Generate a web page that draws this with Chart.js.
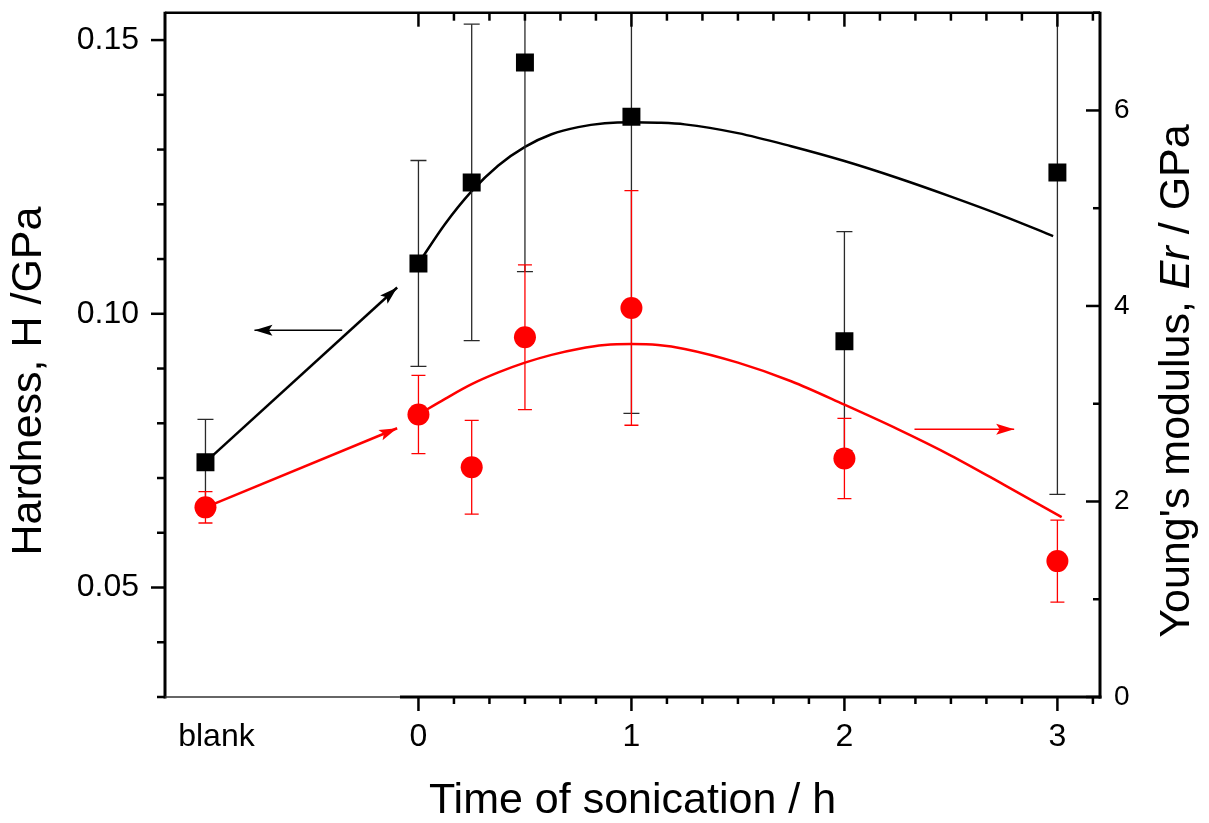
<!DOCTYPE html>
<html>
<head>
<meta charset="utf-8">
<script src="https://cdn.jsdelivr.net/npm/chart.js@4.4.1/dist/chart.umd.min.js"></script>
<style>
  body { margin: 0; background: #fff; }
</style>
</head>
<body>
<canvas id="chart" width="1209" height="823"></canvas>
<script>
// sonication time in h, the blank sample sits at -1
const times = [-1, 0, 0.25, 0.5, 1, 2, 3];
const hardness = [0.0729, 0.1092, 0.1240, 0.1459, 0.1360, 0.0950, 0.1258];
const hardnessErr = [0.0078, 0.0188, 0.0289, 0.0382, 0.0542, 0.0200, 0.0588];
const modulus = [1.94, 2.89, 2.35, 3.68, 3.98, 2.44, 1.39];
const modulusErr = [0.16, 0.40, 0.48, 0.74, 1.20, 0.41, 0.42];

// fitted trend curves
const hardnessFitTimes = [0, 0.125, 0.25, 0.375, 0.5, 0.625, 0.75, 0.875, 1, 1.125, 1.25, 1.5, 1.75, 2, 2.25, 2.5, 2.75, 2.98];
const hardnessFit = [0.1092, 0.1164, 0.1224, 0.1271, 0.1305, 0.1328, 0.1341, 0.1348, 0.1350, 0.1349, 0.1346, 0.1330, 0.1306, 0.1279, 0.1248, 0.1214, 0.1178, 0.1142];
const modulusFitTimes = [0, 0.125, 0.25, 0.375, 0.5, 0.625, 0.75, 0.875, 1, 1.125, 1.25, 1.5, 1.75, 2, 2.25, 2.5, 2.75, 3.02];
const modulusFit = [2.89, 3.05, 3.20, 3.32, 3.42, 3.50, 3.56, 3.60, 3.61, 3.60, 3.56, 3.42, 3.23, 2.99, 2.74, 2.47, 2.17, 1.84];

// guide arrows [x, y] start -> end
const hardnessArrow = [[-1, 0.0729], [-0.10, 0.1048]];
const hardnessAxisArrow = [[-0.358, 0.0970], [-0.77, 0.0970]];
const modulusArrow = [[-1, 1.94], [-0.10, 2.749]];
const modulusAxisArrow = [[2.329, 2.739], [2.797, 2.739]];

// axes
const xTickValues = [-1, 0, 1, 2, 3];
const xTickLabels = ['blank', '0', '1', '2', '3'];
const xMajorTicks = [0, 1, 2, 3];
const xBreak = -0.087;
const yTickValues = [0.05, 0.10, 0.15];
const yTickLabels = ['0.05', '0.10', '0.15'];
const yMinorTicks = [0.03, 0.04, 0.06, 0.07, 0.08, 0.09, 0.11, 0.12, 0.13, 0.14];
const y2TickValues = [0, 2, 4, 6];
const y2TickLabels = ['0', '2', '4', '6'];
const y2MinorTicks = [1, 3, 5, 7];

const FONT = "'Liberation Sans', Arial, sans-serif";

function pts(xs, ys) {
    return xs.map((x, i) => ({x: x, y: ys[i]}));
}

function seg(ctx, x1, y1, x2, y2) {
    ctx.beginPath();
    ctx.moveTo(x1, y1);
    ctx.lineTo(x2, y2);
    ctx.stroke();
}

// error bars, drawn just under the markers of their dataset
const errorBars = {
    id: 'errorBars',
    beforeDatasetDraw(chart, args) {
        const ds = chart.data.datasets[args.index];
        if (!ds.errors) return;
        const ctx = chart.ctx;
        const a = chart.chartArea;
        const ys = chart.scales[ds.yAxisID];
        ctx.save();
        ctx.beginPath();
        ctx.rect(a.left, a.top, a.right - a.left, a.bottom - a.top);
        ctx.clip();
        ctx.strokeStyle = ds.errorColor;
        ctx.lineWidth = 1.3;
        args.meta.data.forEach((p, i) => {
            const v = ds.data[i].y;
            const top = ys.getPixelForValue(v + ds.errors[i]);
            const bot = ys.getPixelForValue(v - ds.errors[i]);
            seg(ctx, p.x, top, p.x, bot);
            seg(ctx, p.x - ds.capHalf, top, p.x + ds.capHalf, top);
            seg(ctx, p.x - ds.capHalf, bot, p.x + ds.capHalf, bot);
        });
        ctx.restore();
    }
};

// arrow heads at the end of the guide lines
const arrowHeads = {
    id: 'arrowHeads',
    afterDatasetDraw(chart, args) {
        const ds = chart.data.datasets[args.index];
        if (!ds.arrow) return;
        const ctx = chart.ctx;
        const p0 = args.meta.data[0], p1 = args.meta.data[1];
        const ang = Math.atan2(p1.y - p0.y, p1.x - p0.x);
        const len = 18, half = 5.5;
        ctx.save();
        ctx.translate(p1.x, p1.y);
        ctx.rotate(ang);
        ctx.fillStyle = ds.borderColor;
        ctx.beginPath();
        ctx.moveTo(0, 0);
        ctx.lineTo(-len, -half);
        ctx.lineTo(-len * 0.8, 0);
        ctx.lineTo(-len, half);
        ctx.closePath();
        ctx.fill();
        ctx.restore();
    }
};

// frame, tick marks, tick labels and axis titles
const frame = {
    id: 'frame',
    afterDatasetsDraw(chart) {
        const ctx = chart.ctx;
        const a = chart.chartArea;
        const x = chart.scales.x, y = chart.scales.y, y2 = chart.scales.y2;
        ctx.save();
        ctx.strokeStyle = '#000';

        // minor x ticks every 10 min
        const xMinor = [];
        for (let k = 1; k <= 19; k++) if (k % 6) xMinor.push(k / 6);

        ctx.lineWidth = 2.5;
        xMajorTicks.forEach(v => {
            const px = x.getPixelForValue(v);
            seg(ctx, px, a.bottom, px, a.bottom + 14);
            seg(ctx, px, a.top, px, a.top + 14);
        });
        xMinor.forEach(v => {
            const px = x.getPixelForValue(v);
            seg(ctx, px, a.bottom, px, a.bottom + 7);
            seg(ctx, px, a.top, px, a.top + 8);
        });
        yTickValues.forEach(v => {
            const py = y.getPixelForValue(v);
            seg(ctx, a.left - 14, py, a.left, py);
        });
        yMinorTicks.forEach(v => {
            const py = y.getPixelForValue(v);
            seg(ctx, a.left - 8, py, a.left, py);
        });
        y2TickValues.forEach(v => {
            const py = y2.getPixelForValue(v);
            seg(ctx, a.right - 14, py, a.right, py);
        });
        y2MinorTicks.forEach(v => {
            const py = y2.getPixelForValue(v);
            seg(ctx, a.right - 7, py, a.right, py);
        });

        // axis lines
        ctx.lineWidth = 2.5;
        seg(ctx, a.left, a.top, a.right, a.top);
        ctx.lineWidth = 3;
        seg(ctx, a.left, a.top - 1, a.left, a.bottom + 1.5);
        seg(ctx, a.right, a.top - 1, a.right, a.bottom + 1.5);
        const xb = x.getPixelForValue(xBreak);
        seg(ctx, xb, a.bottom, a.right + 1.5, a.bottom);
        ctx.lineWidth = 1.5;
        ctx.strokeStyle = '#333';
        seg(ctx, a.left, a.bottom, xb, a.bottom);

        // tick labels
        ctx.fillStyle = '#000';
        ctx.font = '32px ' + FONT;
        ctx.textBaseline = 'middle';
        ctx.textAlign = 'right';
        yTickValues.forEach((v, i) => {
            ctx.fillText(yTickLabels[i], a.left - 26, y.getPixelForValue(v));
        });
        ctx.textAlign = 'center';
        xTickValues.forEach((v, i) => {
            const dx = v < 0 ? 11 : 0;
            ctx.fillText(xTickLabels[i], x.getPixelForValue(v) + dx, a.bottom + 40);
        });
        ctx.font = '28px ' + FONT;
        ctx.textAlign = 'left';
        y2TickValues.forEach((v, i) => {
            ctx.fillText(y2TickLabels[i], a.right + 14, y2.getPixelForValue(v));
        });

        // axis titles
        ctx.font = '43px ' + FONT;
        ctx.textAlign = 'center';
        ctx.textBaseline = 'alphabetic';
        ctx.fillText('Time of sonication / h', (a.left + a.right) / 2, 813);

        ctx.save();
        ctx.translate(29, 381);
        ctx.rotate(-Math.PI / 2);
        ctx.textBaseline = 'middle';
        ctx.fillText('Hardness, H /GPa', 0, 0);
        ctx.restore();

        const parts = [
            ["Young's modulus, ", '43px ' + FONT],
            ['Er', 'italic 43px ' + FONT],
            [' / GPa', '43px ' + FONT]
        ];
        let total = 0;
        parts.forEach(p => { ctx.font = p[1]; total += ctx.measureText(p[0]).width; });
        ctx.save();
        ctx.translate(1177, 381);
        ctx.rotate(-Math.PI / 2);
        ctx.textAlign = 'left';
        ctx.textBaseline = 'middle';
        let cx = -total / 2;
        parts.forEach(p => {
            ctx.font = p[1];
            ctx.fillText(p[0], cx, 0);
            cx += ctx.measureText(p[0]).width;
        });
        ctx.restore();

        ctx.restore();
    }
};

const ctx = document.getElementById('chart');
new Chart(ctx, {
    type: 'scatter',
    data: {
        datasets: [
            {
                data: pts(hardnessFitTimes, hardnessFit),
                yAxisID: 'y',
                showLine: true,
                borderColor: '#000',
                borderWidth: 2.5,
                pointRadius: 0,
                cubicInterpolationMode: 'monotone',
                order: 6
            },
            {
                data: hardnessArrow.map(p => ({x: p[0], y: p[1]})),
                yAxisID: 'y',
                showLine: true,
                borderColor: '#000',
                borderWidth: 2.5,
                pointRadius: 0,
                arrow: true,
                order: 5
            },
            {
                data: hardnessAxisArrow.map(p => ({x: p[0], y: p[1]})),
                yAxisID: 'y',
                showLine: true,
                borderColor: '#000',
                borderWidth: 1.5,
                pointRadius: 0,
                arrow: true,
                order: 5
            },
            {
                data: pts(times, hardness),
                yAxisID: 'y',
                showLine: false,
                pointStyle: 'rect',
                pointRadius: 12.7,
                backgroundColor: '#000',
                borderColor: '#000',
                borderWidth: 0,
                errors: hardnessErr,
                errorColor: '#2a2a2a',
                capHalf: 8,
                order: 4
            },
            {
                data: pts(modulusFitTimes, modulusFit),
                yAxisID: 'y2',
                showLine: true,
                borderColor: '#ff0000',
                borderWidth: 2.5,
                pointRadius: 0,
                cubicInterpolationMode: 'monotone',
                order: 3
            },
            {
                data: modulusArrow.map(p => ({x: p[0], y: p[1]})),
                yAxisID: 'y2',
                showLine: true,
                borderColor: '#ff0000',
                borderWidth: 2.5,
                pointRadius: 0,
                arrow: true,
                order: 2
            },
            {
                data: modulusAxisArrow.map(p => ({x: p[0], y: p[1]})),
                yAxisID: 'y2',
                showLine: true,
                borderColor: '#ff0000',
                borderWidth: 1.5,
                pointRadius: 0,
                arrow: true,
                order: 2
            },
            {
                data: pts(times, modulus),
                yAxisID: 'y2',
                showLine: false,
                pointStyle: 'circle',
                pointRadius: 11,
                backgroundColor: '#ff0000',
                borderColor: '#ff0000',
                borderWidth: 0,
                errors: modulusErr,
                errorColor: '#ff0000',
                capHalf: 7,
                order: 1
            }
        ]
    },
    options: {
        responsive: false,
        animation: false,
        devicePixelRatio: 1,
        events: [],
        layout: {
            padding: {left: 165, top: 7, right: 109, bottom: 126}
        },
        plugins: {
            legend: {display: false},
            tooltip: {enabled: false}
        },
        scales: {
            x: {type: 'linear', display: false, min: -1.19, max: 3.2},
            y: {type: 'linear', display: false, min: 0.03, max: 0.155},
            y2: {type: 'linear', display: false, min: 0, max: 7}
        }
    },
    plugins: [errorBars, arrowHeads, frame]
});
</script>
</body>
</html>
